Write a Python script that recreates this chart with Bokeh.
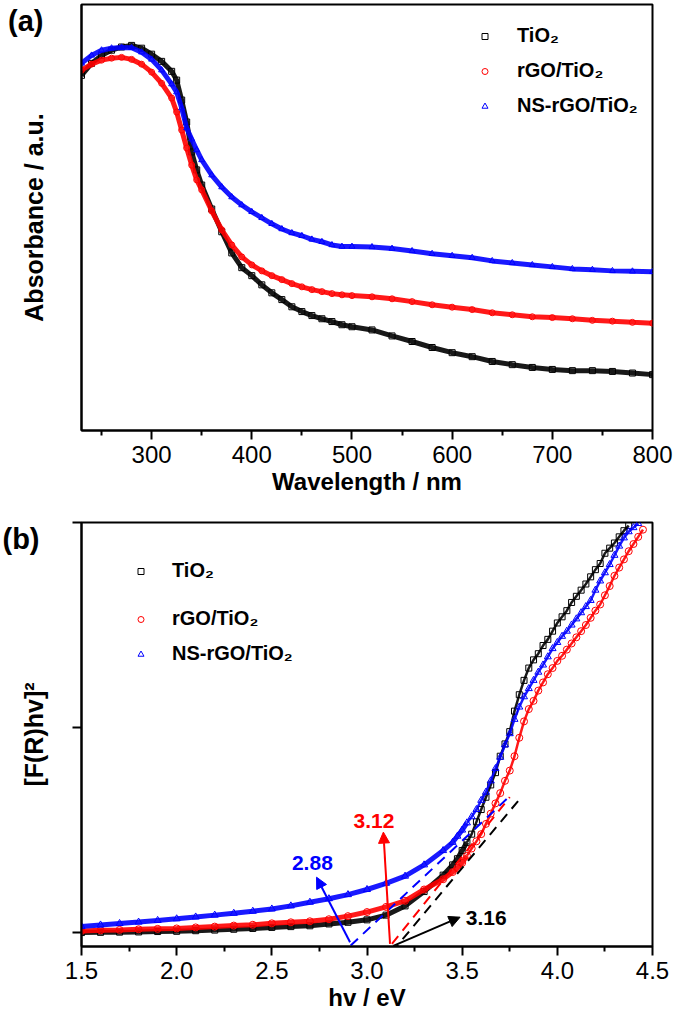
from bokeh.plotting import figure
from bokeh.layouts import column
from bokeh.models import (Range1d, FixedTicker, PrintfTickFormatter, Legend, LegendItem,
                          Arrow, NormalHead, ColumnDataSource)
from bokeh.embed import file_html
from bokeh.resources import INLINE
from bokeh.core.properties import value

FONT = "Liberation Sans"
BLACK, RED, BLUE = "#000000", "#ff0000", "#0000ff"

# ---------------- panel (a): UV-vis absorbance ----------------
wavelength = [230, 240, 250, 260, 270, 280, 290, 300, 310, 320, 325, 330, 335, 340, 345, 350,
              360, 370, 380, 390, 400, 410, 420, 430, 440, 450, 460, 470, 480, 490, 500,
              520, 540, 560, 580, 600, 620, 640, 660, 680, 700, 720, 740, 760, 780, 800]
abs_tio2 = [0.890, 0.920, 0.940, 0.953, 0.961, 0.965, 0.958, 0.943, 0.925, 0.900, 0.878, 0.828,
            0.773, 0.698, 0.653, 0.615, 0.555, 0.498, 0.445, 0.408, 0.388, 0.365, 0.345, 0.328,
            0.310, 0.298, 0.288, 0.280, 0.273, 0.265, 0.260, 0.252, 0.237, 0.223, 0.208, 0.195,
            0.185, 0.173, 0.165, 0.158, 0.153, 0.150, 0.150, 0.148, 0.144, 0.140]
abs_rgo = [0.903, 0.918, 0.928, 0.933, 0.935, 0.930, 0.918, 0.898, 0.870, 0.833, 0.798, 0.753,
           0.708, 0.665, 0.628, 0.603, 0.550, 0.503, 0.465, 0.435, 0.415, 0.400, 0.388, 0.378,
           0.368, 0.360, 0.353, 0.348, 0.343, 0.340, 0.338, 0.335, 0.330, 0.323, 0.315, 0.309,
           0.303, 0.295, 0.290, 0.285, 0.283, 0.280, 0.276, 0.274, 0.271, 0.269]
abs_ns = [0.920, 0.940, 0.953, 0.958, 0.960, 0.959, 0.948, 0.930, 0.903, 0.868, 0.848, 0.808,
          0.758, 0.730, 0.703, 0.678, 0.640, 0.610, 0.585, 0.565, 0.548, 0.533, 0.518, 0.505,
          0.495, 0.488, 0.479, 0.473, 0.465, 0.461, 0.461, 0.460, 0.456, 0.450, 0.443, 0.438,
          0.433, 0.425, 0.420, 0.415, 0.410, 0.405, 0.403, 0.400, 0.399, 0.398]
wl_ticks = [300, 400, 500, 600, 700, 800]
wl_minor = [250, 350, 450, 550, 650, 750]

# ---------------- panel (b): Tauc plot ----------------
hv_low = [1.5, 1.6, 1.7, 1.8, 1.9, 2.0, 2.1, 2.2, 2.3, 2.4, 2.5, 2.6, 2.7, 2.8, 2.9,
          3.0, 3.1, 3.2, 3.3, 3.4]
hv_high = [3.45, 3.475, 3.5, 3.525, 3.55, 3.575, 3.6, 3.625, 3.65, 3.675, 3.7, 3.725, 3.75,
           3.775, 3.8, 3.825, 3.85, 3.875, 3.9, 3.925, 3.95, 3.975, 4.0, 4.025, 4.05, 4.075,
           4.1, 4.125, 4.15, 4.175, 4.2, 4.225, 4.25, 4.275, 4.3, 4.325, 4.35, 4.375, 4.4,
           4.425, 4.45]
tauc_tio2 = [0.000, 0.001, 0.002, 0.003, 0.005, 0.006, 0.009, 0.012, 0.016, 0.020, 0.025, 0.029,
             0.033, 0.042, 0.050, 0.062, 0.085, 0.130, 0.200, 0.280,
             0.33, 0.36, 0.40, 0.44, 0.48, 0.54, 0.60, 0.66, 0.72, 0.78, 0.86, 0.92, 0.98, 1.08,
             1.16, 1.23, 1.29, 1.33, 1.36, 1.40, 1.43, 1.47, 1.51, 1.54, 1.57, 1.61, 1.64, 1.67,
             1.70, 1.735, 1.77, 1.80, 1.85, 1.875, 1.90, 1.93, 1.96, 1.985]
tauc_rgo = [0.008, 0.011, 0.013, 0.016, 0.018, 0.020, 0.025, 0.029, 0.034, 0.038, 0.045, 0.050,
            0.055, 0.065, 0.080, 0.100, 0.125, 0.155, 0.210, 0.260,
            0.295, 0.315, 0.34, 0.375, 0.41, 0.445, 0.48, 0.53, 0.58, 0.63, 0.68, 0.74, 0.79,
            0.86, 0.95, 1.03, 1.09, 1.13, 1.18, 1.22, 1.26, 1.29, 1.325, 1.35, 1.38, 1.41, 1.44,
            1.47, 1.50, 1.535, 1.57, 1.60, 1.645, 1.69, 1.74, 1.78, 1.82, 1.86, 1.895, 1.93, 1.965]
tauc_ns = [0.030, 0.037, 0.044, 0.051, 0.059, 0.067, 0.076, 0.085, 0.094, 0.104, 0.115, 0.130,
           0.148, 0.165, 0.185, 0.210, 0.240, 0.275, 0.330, 0.400,
           0.44, 0.47, 0.50, 0.535, 0.565, 0.60, 0.645, 0.685, 0.74, 0.80, 0.855, 0.915, 0.97,
           1.04, 1.10, 1.15, 1.19, 1.23, 1.27, 1.305, 1.345, 1.385, 1.415, 1.445, 1.47, 1.50,
           1.53, 1.56, 1.59, 1.62, 1.67, 1.715, 1.755, 1.795, 1.84, 1.885, 1.925, 1.955, 1.975,
           1.995]
hv_ticks = [1.5, 2.0, 2.5, 3.0, 3.5, 4.0, 4.5]
hv_minor = [1.75, 2.25, 2.75, 3.25, 3.75, 4.25]
tauc_ticks = [0, 1, 2]

# band-gap extrapolations (ordered: NS-rGO/TiO2, rGO/TiO2, TiO2)
gap_values = [2.88, 3.12, 3.16]
gap_colors = [BLUE, RED, BLACK]
tangent_x = [[2.849, 3.753], [3.075, 3.750], [3.130, 3.796]]
tangent_y = [[-0.12, 0.668], [-0.12, 0.660], [-0.096, 0.644]]
arrow_x0 = [2.911, 3.121, 3.138]
arrow_y0 = [-0.047, -0.055, -0.065]
arrow_x1 = [2.735, 3.086, 3.489]
arrow_y1 = [0.270, 0.490, 0.075]
gap_label_x = [2.713, 3.037, 3.626]
gap_label_y = [0.339, 0.544, 0.070]

names = ["TiO\u2082", "rGO/TiO\u2082", "NS-rGO/TiO\u2082"]
colors = [BLACK, RED, BLUE]
markers = ["square", "circle", "triangle"]

# panel tags are drawn as the single tick label of each left axis
tag_a_pos = 1.025
tag_b_pos = 1.92
n_dense = 24  # points of the flat low-energy part drawn as a thick band


def style(p):
    p.outline_line_color = "black"
    p.outline_line_width = 2
    p.outline_line_alpha = 1
    p.xgrid.grid_line_color = None
    p.ygrid.grid_line_color = None
    p.background_fill_color = "white"
    p.border_fill_color = "white"
    for ax in p.axis:
        ax.axis_line_width = 2
        ax.axis_line_color = "black"
        ax.major_tick_line_width = 2
        ax.minor_tick_line_width = 2
        ax.major_tick_line_color = "black"
        ax.minor_tick_line_color = "black"
        ax.major_tick_in = 0
        ax.major_tick_out = 9
        ax.minor_tick_in = 0
        ax.minor_tick_out = 5
        ax.major_label_text_font = FONT
        ax.major_label_text_font_size = "24px"
        ax.major_label_text_color = "black"
        ax.major_label_standoff = 6
        ax.axis_label_text_font = FONT
        ax.axis_label_text_font_style = "bold"
        ax.axis_label_text_color = "black"


def tag_axis(ax, pos, tag, standoff, label, label_standoff, minor):
    ax.ticker = FixedTicker(ticks=[pos], minor_ticks=minor)
    ax.major_label_overrides = {pos: tag}
    ax.major_label_text_font_style = "bold"
    ax.major_label_text_font_size = "29px"
    ax.major_tick_out = 0
    ax.minor_tick_out = 9
    ax.major_label_standoff = standoff
    ax.axis_label = label
    ax.axis_label_text_font_size = "25px"
    ax.axis_label_standoff = label_standoff


# ================= figure (a) =================
pa = figure(width=675, height=502, x_range=Range1d(230, 800), y_range=Range1d(0, 1.0675),
            output_backend="svg", toolbar_location=None,
            min_border_left=81, min_border_right=23, min_border_top=4, min_border_bottom=72)
pa.title.visible = False
style(pa)
xa = pa.xaxis[0]
xa.ticker = FixedTicker(ticks=wl_ticks, minor_ticks=wl_minor)
xa.axis_label = "Wavelength / nm"
xa.axis_label_text_font_size = "24px"
xa.axis_label_standoff = 2
tag_axis(pa.yaxis[0], tag_a_pos, "(a)", 38, "Absorbance / a.u.", -43, [])

items_a = []
for ys, c, m, n in zip([abs_tio2, abs_rgo, abs_ns], colors, markers, names):
    pa.line(wavelength, ys, line_color=c, line_width=5, line_alpha=0.9)
    r = pa.scatter(wavelength, ys, marker=m, size=6, fill_color=None, line_color=c, line_width=1)
    items_a.append(LegendItem(label=n, renderers=[r]))

leg_kw = dict(orientation="vertical", glyph_width=15, glyph_height=20, label_height=20,
              spacing=12, padding=0, margin=0, border_line_color=None,
              background_fill_alpha=0, label_text_font=FONT, label_text_font_style="bold",
              label_text_font_size="20px", label_text_color="black")
leg_a = Legend(items=items_a, location=(396, 313), label_standoff=25, **leg_kw)
pa.add_layout(leg_a, "center")

# ================= figure (b) =================
pb = figure(width=675, height=518, x_range=Range1d(1.5, 4.5), y_range=Range1d(-0.068, 2.0),
            output_backend="svg", toolbar_location=None,
            min_border_left=81, min_border_right=23, min_border_top=20, min_border_bottom=74)
pb.title.visible = False
style(pb)
xb = pb.xaxis[0]
xb.ticker = FixedTicker(ticks=hv_ticks, minor_ticks=hv_minor)
xb.formatter = PrintfTickFormatter(format="%.1f")
xb.axis_label = "hv / eV"
xb.axis_label_text_font_size = "24px"
xb.axis_label_standoff = 2
tag_axis(pb.yaxis[0], tag_b_pos, "(b)", 33, "[F(R)hv]\u00b2", -49, tauc_ticks)

hv_tio2 = hv_low + hv_high[:len(tauc_tio2) - len(hv_low)]
hv_rgo = hv_low + hv_high[:len(tauc_rgo) - len(hv_low)]
hv_ns = hv_low + hv_high[:len(tauc_ns) - len(hv_low)]

items_b = []
for xs, ys, c, m, n, s in zip([hv_tio2, hv_rgo, hv_ns], [tauc_tio2, tauc_rgo, tauc_ns],
                              colors, markers, names, [6, 7, 7]):
    pb.line(xs[:n_dense], ys[:n_dense], line_color=c, line_width=5, line_alpha=0.9)
    pb.line(xs[n_dense - 1:], ys[n_dense - 1:], line_color=c, line_width=2.5, line_alpha=0.9)
    r = pb.scatter(xs, ys, marker=m, size=s, fill_color=None, line_color=c, line_width=1)
    items_b.append(LegendItem(label=n, renderers=[r]))

tan_src = ColumnDataSource(dict(xs=tangent_x, ys=tangent_y, color=gap_colors))
pb.multi_line(xs="xs", ys="ys", line_color="color", line_width=2, line_dash="10 7",
              source=tan_src)
for x0, y0, x1, y1, c in zip(arrow_x0, arrow_y0, arrow_x1, arrow_y1, gap_colors):
    pb.add_layout(Arrow(x_start=x0, y_start=y0, x_end=x1, y_end=y1, line_color=c,
                        line_width=2,
                        end=NormalHead(size=11, fill_color=c, line_color=c, line_width=1)))
gap_src = ColumnDataSource(dict(x=gap_label_x, y=gap_label_y,
                                text=[f"{g:.2f}" for g in gap_values], color=gap_colors))
pb.text(x="x", y="y", text="text", text_color="color", source=gap_src,
        text_font=value(FONT), text_font_style="bold", text_font_size="21px",
        text_align="center", text_baseline="middle")

leg_b1 = Legend(items=items_b[:1], location=(52, 364), label_standoff=24, **leg_kw)
leg_b2 = Legend(items=items_b[1:], location=(52, 281), label_standoff=24, **leg_kw)
pb.add_layout(leg_b1, "center")
pb.add_layout(leg_b2, "center")

layout = column(pa, pb, spacing=0)
open("out.html", "w").write(file_html(layout, INLINE))
